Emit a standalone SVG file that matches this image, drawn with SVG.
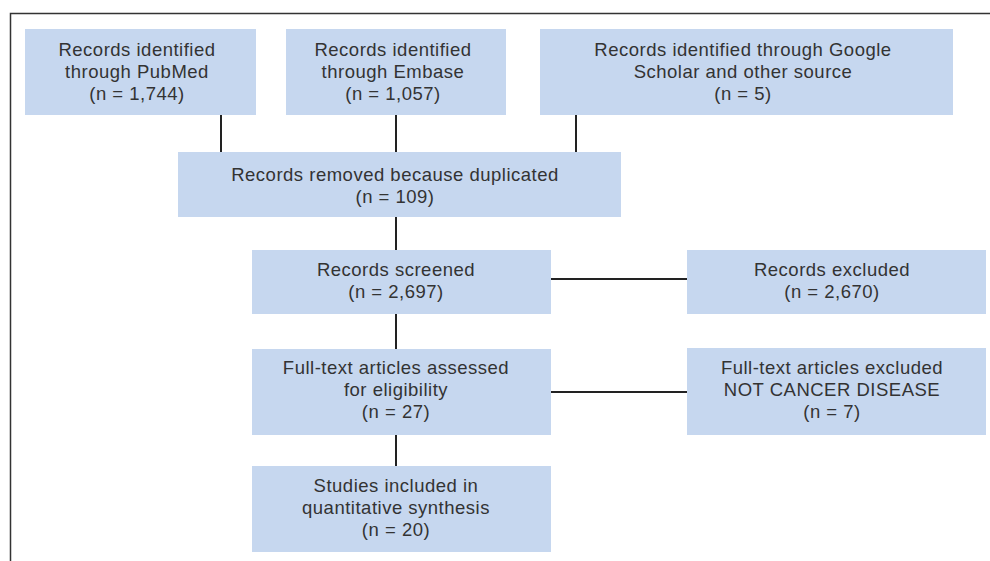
<svg xmlns="http://www.w3.org/2000/svg" width="990" height="561" viewBox="0 0 990 561">
<style>
.box{fill:#c6d7ef;}
.t{font-family:"Liberation Sans",Arial,sans-serif;font-size:18.5px;fill:#333;text-anchor:middle;letter-spacing:0.5px;}
.c{stroke:#222;stroke-width:2;fill:none;}
.frame{stroke:#333;stroke-width:1.5;fill:none;}
</style>
<rect width="990" height="561" fill="#fff"/>
<path class="frame" d="M10.5,561 V13.5 H990"/>
<g id="connectors">
<line class="c" x1="221" y1="115" x2="221" y2="152"/>
<line class="c" x1="396" y1="115" x2="396" y2="152"/>
<line class="c" x1="576" y1="115" x2="576" y2="152"/>
<line class="c" x1="396" y1="217" x2="396" y2="250"/>
<line class="c" x1="551" y1="279" x2="687" y2="279"/>
<line class="c" x1="396" y1="314" x2="396" y2="349"/>
<line class="c" x1="551" y1="392" x2="687" y2="392"/>
<line class="c" x1="396" y1="435" x2="396" y2="466"/>
</g>
<g id="pubmed">
<rect class="box" x="25" y="29" width="231" height="86"/>
<text class="t" x="137" y="56">Records identified</text>
<text class="t" x="137" y="78">through PubMed</text>
<text class="t" x="137" y="100">(n = 1,744)</text>
</g>
<g id="embase">
<rect class="box" x="286" y="29" width="220" height="86"/>
<text class="t" x="393" y="56">Records identified</text>
<text class="t" x="393" y="78">through Embase</text>
<text class="t" x="393" y="100">(n = 1,057)</text>
</g>
<g id="google">
<rect class="box" x="540" y="29" width="413" height="86"/>
<text class="t" x="743" y="56">Records identified through Google</text>
<text class="t" x="743" y="78">Scholar and other source</text>
<text class="t" x="743" y="100">(n = 5)</text>
</g>
<g id="duplicates">
<rect class="box" x="178" y="152" width="443" height="65"/>
<text class="t" x="395" y="181">Records removed because duplicated</text>
<text class="t" x="395" y="203">(n = 109)</text>
</g>
<g id="screened">
<rect class="box" x="252" y="250" width="299" height="64"/>
<text class="t" x="396" y="276">Records screened</text>
<text class="t" x="396" y="298">(n = 2,697)</text>
</g>
<g id="excluded">
<rect class="box" x="687" y="250" width="299" height="64"/>
<text class="t" x="832" y="276">Records excluded</text>
<text class="t" x="832" y="298">(n = 2,670)</text>
</g>
<g id="fulltext">
<rect class="box" x="252" y="349" width="299" height="86"/>
<text class="t" x="396" y="374">Full-text articles assessed</text>
<text class="t" x="396" y="396">for eligibility</text>
<text class="t" x="396" y="418">(n = 27)</text>
</g>
<g id="fulltext-excluded">
<rect class="box" x="687" y="348" width="299" height="87"/>
<text class="t" x="832" y="374">Full-text articles excluded</text>
<text class="t" x="832" y="396">NOT CANCER DISEASE</text>
<text class="t" x="832" y="418">(n = 7)</text>
</g>
<g id="studies">
<rect class="box" x="252" y="466" width="299" height="86"/>
<text class="t" x="396" y="492">Studies included in</text>
<text class="t" x="396" y="514">quantitative synthesis</text>
<text class="t" x="396" y="536">(n = 20)</text>
</g>
</svg>
